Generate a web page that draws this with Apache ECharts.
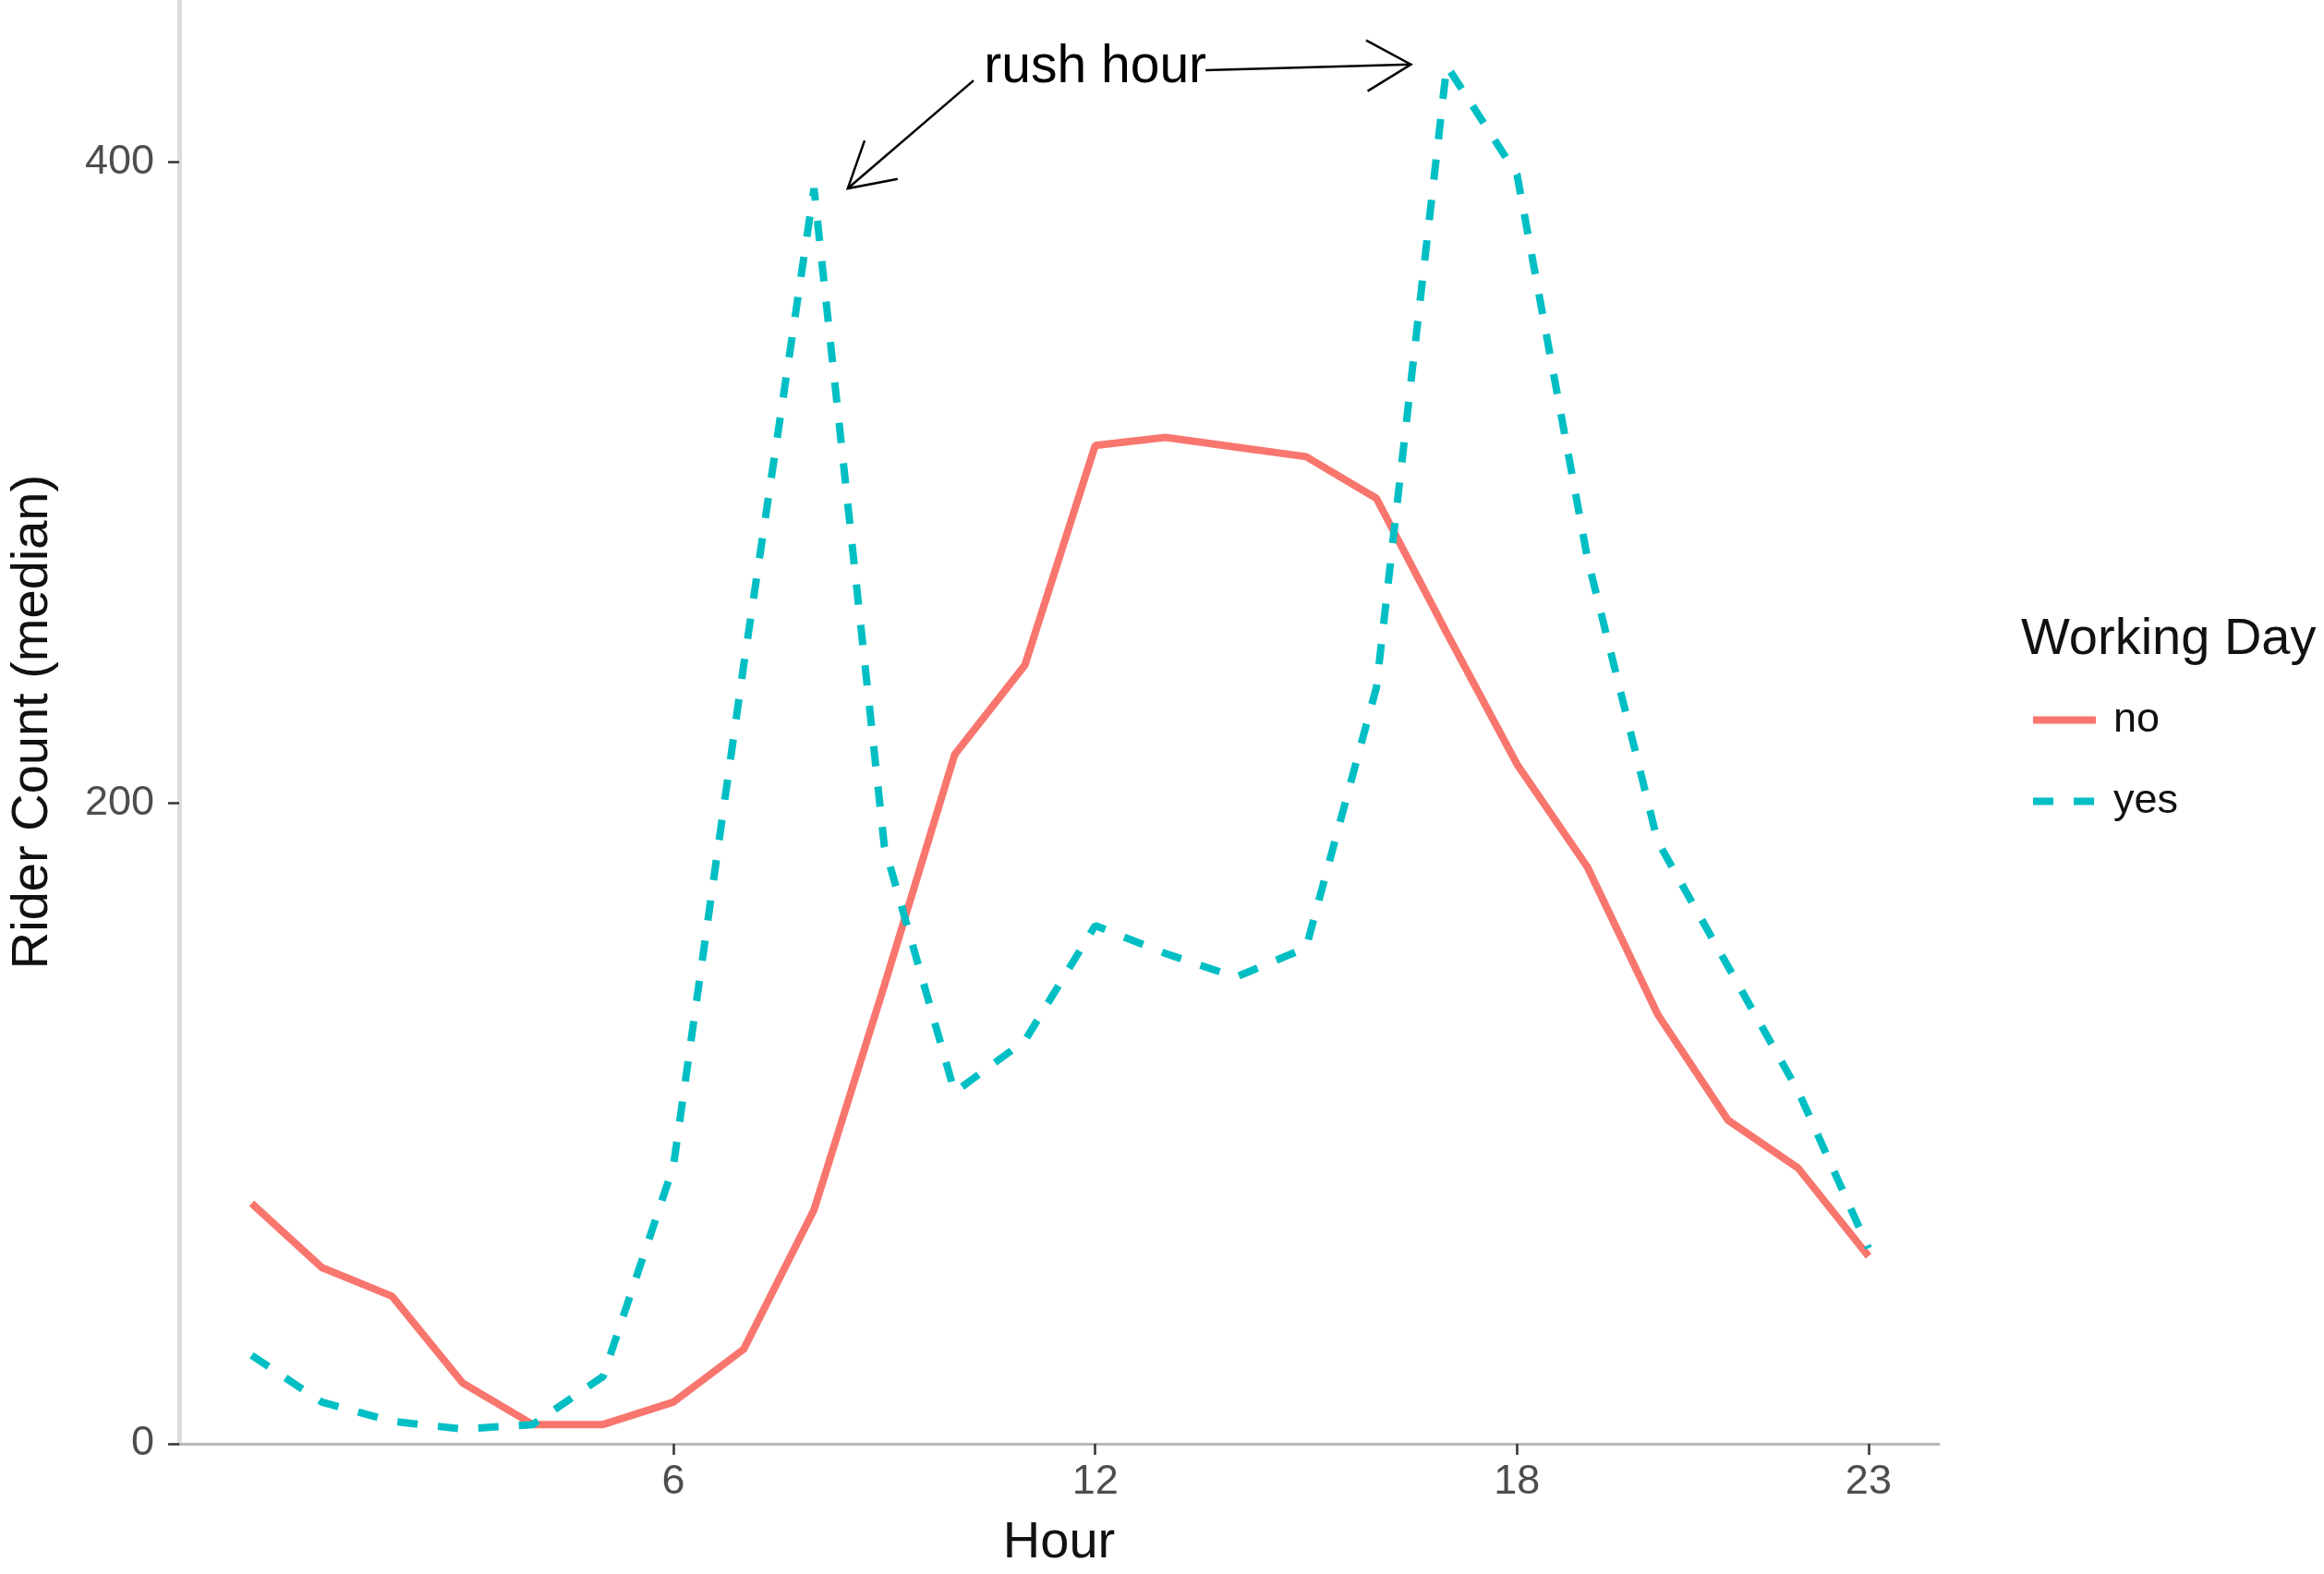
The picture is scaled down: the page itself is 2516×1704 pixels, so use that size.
<!DOCTYPE html>
<html><head><meta charset="utf-8">
<script src="https://cdn.jsdelivr.net/npm/echarts@6/dist/echarts.min.js"></script>
<style>html,body{margin:0;padding:0;background:#fff}#c{width:2516px;height:1704px}</style>
</head><body><div id="c"></div>
<script>
const hours = [0,1,2,3,4,5,6,7,8,9,10,11,12,13,14,15,16,17,18,19,20,21,22,23];
const noValues = [75,55,46,19,6,6,13,29.5,73,143,215,243,311.5,314,311,308,295,253,212,180,134,101,86,58.5];
const yesValues = [27.6,13,7,4.6,6,21,86.6,243,391.7,186.6,109.7,125.8,161.7,153,145.6,154.8,236,430,396,276.5,188,149,110,61];
const seriesNames = ['no','yes'];
const xTickValues = [6,12,18,23];
const yTickValues = [0,200,400];
const annotationText = 'rush hour';
const annotationAnchor = [[12, 429.5]];
const arrows = [[10.27,425.4,8.48,391.7],[13.57,428.6,16.49,430.4]];

const FONT = 'Liberation Sans';
const chart = echarts.init(document.getElementById('c'), null, {renderer:'canvas'});
chart.setOption({
  backgroundColor:'#ffffff',
  animation:false,
  textStyle:{fontFamily:FONT},
  title:{text:'Working Day', left:2183, top:660, textStyle:{fontSize:56, fontWeight:'normal', color:'#111', fontFamily:FONT}},
  legend:{
    orient:'vertical', left:2192, top:752, itemWidth:68, itemHeight:14, itemGap:43,
    data:seriesNames,
    itemStyle:{opacity:0},
    lineStyle:{width:8},
    textStyle:{fontSize:45, color:'#111', lineHeight:45, fontFamily:FONT, padding:[0,0,0,14]}
  },
  grid:{left:189, right:417, top:0, bottom:135, containLabel:false},
  xAxis:{
    type:'value', min:-1.03, max:24,
    name:'Hour', nameLocation:'middle', nameGap:80,
    nameTextStyle:{fontSize:56, color:'#111', fontFamily:FONT},
    axisLine:{show:true, onZero:false, lineStyle:{color:'#b8b8b8', width:3}},
    axisTick:{show:true, length:12, lineStyle:{color:'#333', width:2.5}, customValues:xTickValues},
    axisLabel:{fontSize:45, color:'#4d4d4d', margin:19, customValues:xTickValues, fontFamily:FONT},
    splitLine:{show:false}
  },
  yAxis:{
    type:'value', min:0, max:450.5, interval:200,
    name:'Rider Count (median)', nameLocation:'middle', nameGap:130,
    nameTextStyle:{fontSize:56, color:'#111', fontFamily:FONT},
    axisLine:{show:true, onZero:false, lineStyle:{color:'#dcdcdc', width:5}},
    axisTick:{show:true, length:12, lineStyle:{color:'#333', width:2.5}, customValues:yTickValues},
    axisLabel:{fontSize:45, color:'#4d4d4d', margin:27, customValues:yTickValues, fontFamily:FONT},
    splitLine:{show:false}
  },
  series:[
    {name:seriesNames[0], type:'line', symbol:'none', data:hours.map((h,i)=>[h,noValues[i]]),
     lineStyle:{color:'#F8766D', width:8}, itemStyle:{color:'#F8766D'}},
    {name:seriesNames[1], type:'line', symbol:'none', data:hours.map((h,i)=>[h,yesValues[i]]),
     lineStyle:{color:'#00BFC4', width:8, type:[22,22], cap:'butt'}, itemStyle:{color:'#00BFC4'}},
    {type:'custom', coordinateSystem:'cartesian2d', silent:true, clip:false,
     data:arrows, encode:{x:[0,2], y:[1,3]},
     renderItem(params, api){
       const p1 = api.coord([api.value(0), api.value(1)]);
       const p2 = api.coord([api.value(2), api.value(3)]);
       const ang = Math.atan2(p2[1]-p1[1], p2[0]-p1[0]);
       const L = 55, a = Math.PI/6;
       const h1 = [p2[0]-L*Math.cos(ang-a), p2[1]-L*Math.sin(ang-a)];
       const h2 = [p2[0]-L*Math.cos(ang+a), p2[1]-L*Math.sin(ang+a)];
       return {type:'group', children:[
         {type:'line', shape:{x1:p1[0],y1:p1[1],x2:p2[0],y2:p2[1]}, style:{stroke:'#000', lineWidth:2.5}},
         {type:'polyline', shape:{points:[h1,p2,h2]}, style:{stroke:'#000', lineWidth:2.5, fill:null}}
       ]};
     }},
    {type:'custom', coordinateSystem:'cartesian2d', silent:true, clip:false,
     data:annotationAnchor, encode:{x:0, y:1},
     renderItem(params, api){
       const p = api.coord([api.value(0), api.value(1)]);
       return {type:'text', x:p[0], y:p[1], style:{text:annotationText, fontSize:57, fontFamily:FONT, fill:'#000', align:'center', verticalAlign:'middle'}};
     }}
  ]
});
</script></body></html>
